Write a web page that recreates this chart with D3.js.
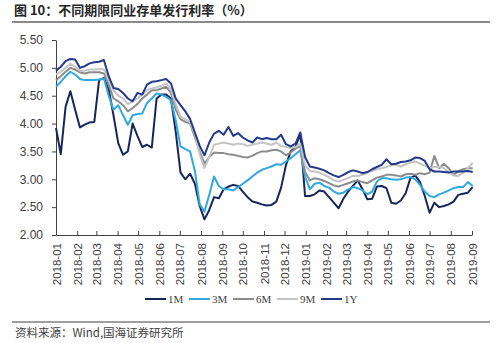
<!DOCTYPE html>
<html><head><meta charset="utf-8">
<script src="https://cdn.jsdelivr.net/npm/d3@7/dist/d3.min.js"></script>
<style>body{margin:0;background:#fff}</style>
</head><body><svg id="c" width="500" height="343"></svg>
<script>
const titleText = "图 10：不同期限同业存单发行利率（%）";
const sourceText = "资料来源：Wind,国海证券研究所";
const seriesNames = ["1M", "3M", "6M", "9M", "1Y"];
const seriesColors = ["#172659", "#2fa9df", "#8c8c8c", "#c4c4c4", "#22398c"];
const monthLabels = ["2018-01","2018-02","2018-03","2018-04","2018-05","2018-06","2018-07","2018-08","2018-09","2018-10","2018-11","2018-12","2019-01","2019-02","2019-03","2019-04","2019-05","2019-06","2019-07","2019-08","2019-09"];
const yTickValues = [2.0, 2.5, 3.0, 3.5, 4.0, 4.5, 5.0, 5.5];
const firstWeek = "2018-01-01"; // weekly observations

const rate1M = [3.92,3.45,4.30,4.58,4.25,3.93,3.98,4.02,4.03,4.78,
 4.82,4.62,4.15,3.65,3.44,3.50,4.00,3.78,3.58,3.62,
 3.57,4.45,4.52,4.52,4.45,3.85,3.12,3.00,3.10,2.92,
 2.52,2.28,2.45,2.68,2.66,2.82,2.87,2.90,2.88,2.78,
 2.68,2.60,2.58,2.55,2.53,2.54,2.60,2.85,3.25,3.50,
 3.58,3.82,2.70,2.70,2.73,2.80,2.78,2.68,2.58,2.48,
 2.65,2.78,2.88,2.98,2.82,2.64,2.65,2.87,2.88,2.84,
 2.58,2.56,2.62,2.75,3.02,3.07,2.95,2.70,2.40,2.58,
 2.50,2.52,2.55,2.60,2.72,2.74,2.76,2.86];
const rate3M = [4.66,4.75,4.85,4.93,4.88,4.80,4.78,4.78,4.78,4.79,
 4.81,4.50,4.25,4.33,4.15,3.98,4.15,4.17,4.18,4.37,
 4.45,4.54,4.52,4.48,4.42,4.05,3.59,3.54,3.50,3.15,
 2.55,2.42,2.72,3.05,2.88,2.82,2.82,2.80,2.86,2.92,
 2.98,3.05,3.12,3.17,3.20,3.23,3.27,3.26,3.32,3.38,
 3.45,3.52,3.05,2.82,2.92,2.94,2.88,2.85,2.78,2.74,
 2.76,2.82,2.86,2.84,2.80,2.73,2.78,2.96,3.02,3.02,
 3.00,2.99,3.00,3.03,3.04,3.00,2.90,2.78,2.70,2.68,
 2.73,2.76,2.80,2.84,2.86,2.86,2.95,2.88];
const rate6M = [4.78,4.85,4.93,5.00,4.97,4.92,4.90,4.92,4.92,4.92,
 4.90,4.70,4.45,4.40,4.33,4.22,4.28,4.35,4.45,4.52,
 4.60,4.60,4.63,4.66,4.55,4.25,4.08,4.03,4.00,3.75,
 3.50,3.28,3.40,3.48,3.47,3.47,3.45,3.44,3.42,3.40,
 3.39,3.42,3.47,3.50,3.50,3.52,3.53,3.50,3.43,3.48,
 3.55,3.59,3.13,2.98,3.02,3.00,2.97,2.93,2.89,2.87,
 2.90,2.93,2.96,2.98,2.95,2.93,2.98,3.03,3.05,3.08,
 3.08,3.07,3.05,3.09,3.10,3.08,3.11,3.09,3.12,3.42,
 3.20,3.28,3.20,3.08,3.14,3.18,3.20,3.20];
const rate9M = [4.88,4.93,5.00,5.07,5.02,4.95,4.95,4.97,4.97,4.98,
 4.97,4.80,4.60,4.50,4.45,4.35,4.40,4.45,4.52,4.60,
 4.63,4.65,4.68,4.72,4.62,4.35,4.12,4.08,4.02,3.80,
 3.45,3.20,3.40,3.62,3.64,3.66,3.64,3.62,3.64,3.63,
 3.60,3.62,3.64,3.66,3.64,3.62,3.66,3.60,3.58,3.56,
 3.58,3.64,3.25,3.15,3.14,3.12,3.08,3.04,2.98,2.96,
 2.99,3.02,3.06,3.06,3.08,3.12,3.15,3.18,3.20,3.22,
 3.25,3.26,3.23,3.27,3.30,3.32,3.28,3.24,3.20,3.22,
 3.22,3.20,3.13,3.07,3.06,3.12,3.20,3.30];
const rate1Y = [4.95,5.02,5.12,5.16,5.15,5.00,5.03,5.08,5.10,5.11,
 5.14,4.85,4.64,4.62,4.55,4.45,4.40,4.55,4.52,4.70,
 4.75,4.76,4.78,4.80,4.72,4.45,4.33,4.22,4.08,3.84,
 3.60,3.43,3.66,3.82,3.87,3.80,3.94,3.78,3.83,3.75,
 3.70,3.66,3.75,3.72,3.74,3.72,3.72,3.80,3.63,3.59,
 3.64,3.84,3.40,3.23,3.21,3.19,3.16,3.11,3.07,3.04,
 3.08,3.13,3.16,3.14,3.11,3.13,3.18,3.22,3.26,3.36,
 3.27,3.28,3.31,3.32,3.34,3.39,3.38,3.33,3.18,3.14,
 3.14,3.13,3.12,3.14,3.14,3.14,3.15,3.13];

const seriesValues = [rate1M, rate3M, rate6M, rate9M, rate1Y];
const parse = d3.timeParse("%Y-%m-%d");
const parseMonth = d3.timeParse("%Y-%m");
const start = parse(firstWeek);
const dates = rate1M.map((_, i) => d3.timeWeek.offset(start, i));

const svg = d3.select("#c");
svg.append("rect").attr("width", 500).attr("height", 343).attr("fill", "#fff");

// title
svg.append("text").attr("x", 14).attr("y", 15)
  .attr("font-family", "'Noto Sans CJK SC', sans-serif").attr("font-weight", "bold")
  .attr("font-size", 13).attr("fill", "#262626").text(titleText);
svg.append("line").attr("x1", 12).attr("x2", 490).attr("y1", 22).attr("y2", 22)
  .attr("stroke", "#8a8a8a").attr("stroke-width", 2);

// scales
const x = d3.scaleTime().domain([parseMonth(monthLabels[0]), parseMonth(monthLabels[monthLabels.length - 1])]).range([56, 472]);
const y = d3.scaleLinear().domain([2, 5.5]).range([235, 40]);

// y axis
const gy = svg.append("g").attr("transform", "translate(56,0)")
  .call(d3.axisLeft(y).tickValues(yTickValues).tickFormat(d3.format(".2f")).tickSize(4).tickSizeOuter(0).tickPadding(9));
gy.selectAll("text").attr("font-family", "'Liberation Sans', Arial, sans-serif").attr("font-size", 12).attr("fill", "#404040");
gy.selectAll("line,path").attr("stroke", "#404040");

// x axis
const gx = svg.append("g").attr("transform", "translate(0,235)")
  .call(d3.axisBottom(x).tickValues(monthLabels.map(parseMonth)).tickFormat((d, i) => monthLabels[i]).tickSize(-4).tickSizeOuter(0));
gx.selectAll("text").attr("font-family", "'Liberation Sans', Arial, sans-serif").attr("font-size", 11.5).attr("fill", "#404040")
  .attr("transform", "rotate(-90)").attr("x", -8).attr("y", 0).attr("dy", "0.35em").style("text-anchor", "end");
gx.selectAll("line,path").attr("stroke", "#404040");

// lines
const line = d3.line().x((d, i) => x(dates[i])).y(d => y(d));
seriesValues.forEach((vals, k) => {
  svg.append("path").datum(vals).attr("d", line).attr("fill", "none")
    .attr("stroke", seriesColors[k]).attr("stroke-width", 2).attr("stroke-linejoin", "round");
});

// legend
const lg = svg.append("g");
seriesNames.forEach((name, k) => {
  const lx = 145 + k * 44;
  lg.append("line").attr("x1", lx).attr("x2", lx + 21).attr("y1", 299).attr("y2", 299)
    .attr("stroke", seriesColors[k]).attr("stroke-width", 2);
  lg.append("text").attr("x", lx + 23).attr("y", 303)
    .attr("font-family", "'Liberation Serif', serif").attr("font-size", 11).attr("fill", "#404040").text(name);
});

// source
svg.append("line").attr("x1", 12).attr("x2", 490).attr("y1", 322).attr("y2", 322)
  .attr("stroke", "#404040").attr("stroke-width", 1);
svg.append("text").attr("x", 15).attr("y", 337)
  .attr("font-family", "'Noto Sans CJK SC', sans-serif").attr("font-size", 11.5).attr("fill", "#404040").text(sourceText);
</script></body></html>
